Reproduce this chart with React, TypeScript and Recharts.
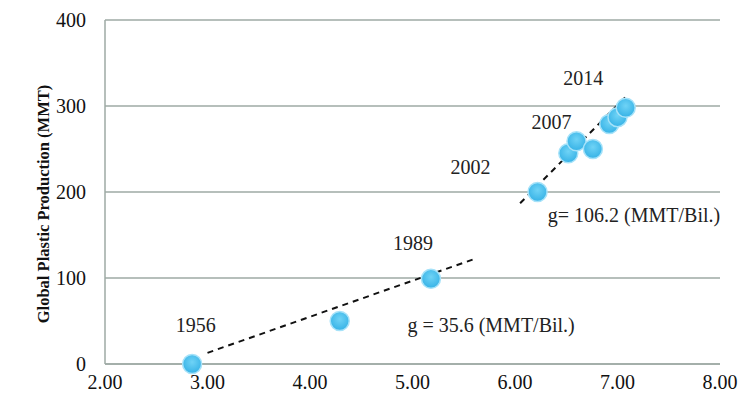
import {
  ScatterChart,
  Scatter,
  XAxis,
  YAxis,
  CartesianGrid,
  ReferenceLine,
  ReferenceDot,
} from "recharts";

// per-capita x (bil.) vs. global plastic production (MMT)
const popX = [2.85, 4.29, 5.18, 6.22, 6.52, 6.6, 6.76, 6.92, 7.0, 7.08];
const production = [0, 50, 99, 200, 245, 259, 250, 279, 287, 298];

const xTicks = [2, 3, 4, 5, 6, 7, 8];
const yTicks = [0, 100, 200, 300, 400];

// dashed fit lines [x1, y1, x2, y2]
const fitEarly = [3.0, 13, 5.6, 122];
const fitLate = [6.05, 187, 7.1, 313];

// text annotations (left edge of text)
const noteText = ["1956", "1989", "2002", "2007", "2014", "g = 35.6 (MMT/Bil.)", "g= 106.2 (MMT/Bil.)"];
const noteX = [2.69, 4.81, 5.37, 6.16, 6.47, 4.95, 6.32];
const noteY = [46, 141, 229, 281, 333, 45, 173];

const points = popX.map((x, i) => ({ x, y: production[i] }));
const notes = noteText.map((t, i) => ({ t, x: noteX[i], y: noteY[i] }));

const font = "'Liberation Serif', serif";

const Bubble = (props: any) => {
  const { cx, cy } = props;
  return <circle cx={cx} cy={cy} r={9.5} fill="url(#bubbleFill)" stroke="#a6e2f9" strokeWidth={1.5} />;
};

const AxisTitle = (props: any) => {
  const { viewBox } = props;
  const cx = viewBox.x + 43;
  const cy = viewBox.y + viewBox.height / 2 + 12;
  return (
    <text
      x={cx}
      y={cy}
      transform={`rotate(-90, ${cx}, ${cy})`}
      textAnchor="middle"
      dominantBaseline="central"
      fill="#111"
      fontSize={16.5}
      fontWeight="bold"
      fontFamily={font}
    >
      Global Plastic Production (MMT)
    </text>
  );
};

const App = () => {
  return (
    <div style={{ position: "absolute", left: 0, top: 0, background: "#fff" }}>
      <ScatterChart
        width={738}
        height={401}
        margin={{ top: 20, right: 18, bottom: 0, left: 0 }}
      >
        <defs>
          <radialGradient id="bubbleFill" cx="50%" cy="40%" r="60%">
            <stop offset="0%" stopColor="#6fd3f6" />
            <stop offset="100%" stopColor="#36b2e6" />
          </radialGradient>
        </defs>
        <CartesianGrid vertical={false} stroke="#9eaaa4" strokeWidth={1.5} />
        <XAxis
          type="number"
          dataKey="x"
          domain={[2, 8]}
          ticks={xTicks}
          tickFormatter={(v: number) => v.toFixed(2)}
          axisLine={{ stroke: "#9eaaa4", strokeWidth: 1.5 }}
          tickLine={false}
          tickSize={0}
          tickMargin={11}
          height={37}
          tick={{ fill: "#111", fontSize: 20, fontFamily: font }}
        />
        <YAxis
          type="number"
          dataKey="y"
          domain={[0, 400]}
          ticks={yTicks}
          axisLine={{ stroke: "#9eaaa4", strokeWidth: 1.5 }}
          tickLine={false}
          tickSize={0}
          tickMargin={19}
          width={105}
          tick={{ fill: "#111", fontSize: 20, fontFamily: font }}
          label={<AxisTitle />}
        />
        <ReferenceLine
          segment={[
            { x: fitEarly[0], y: fitEarly[1] },
            { x: fitEarly[2], y: fitEarly[3] },
          ]}
          stroke="#111"
          strokeWidth={2}
          strokeDasharray="6 5"
        />
        <ReferenceLine
          segment={[
            { x: fitLate[0], y: fitLate[1] },
            { x: fitLate[2], y: fitLate[3] },
          ]}
          stroke="#111"
          strokeWidth={2}
          strokeDasharray="6 5"
        />
        <Scatter data={points} shape={<Bubble />} isAnimationActive={false} />
        {notes.map((n) => (
          <ReferenceDot
            key={n.t}
            x={n.x}
            y={n.y}
            r={0}
            stroke="none"
            fill="none"
            label={{
              value: n.t,
              position: "right",
              offset: 0,
              style: { fill: "#222", fontSize: 20, fontFamily: font },
            }}
          />
        ))}
      </ScatterChart>
    </div>
  );
};

export default App;
